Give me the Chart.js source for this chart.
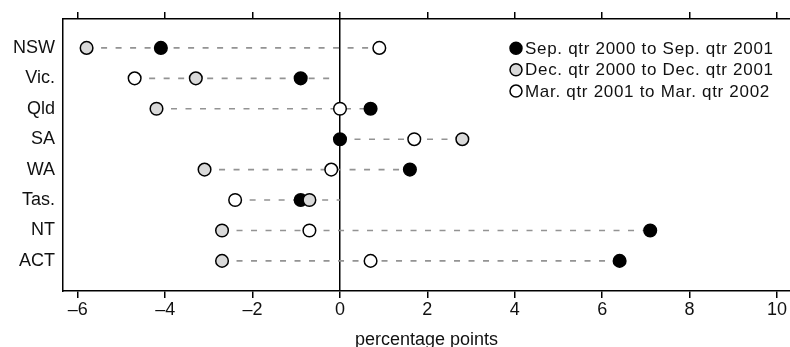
<!DOCTYPE html>
<html>
<head>
<meta charset="utf-8">
<script src="https://cdn.jsdelivr.net/npm/chart.js@4.4.1/dist/chart.umd.min.js"></script>
<style>
  html, body { margin: 0; padding: 0; background: #fff; }
  #wrap { width: 790px; height: 347px; }
</style>
</head>
<body>
<div id="wrap"><canvas id="chart" width="790" height="347"></canvas></div>
<script>
// rows, top to bottom
const states = ["NSW", "Vic.", "Qld", "SA", "WA", "Tas.", "NT", "ACT"];

// change in percentage points
const sepQtr = [-4.1, -0.9, 0.7, 0.0, 1.6, -0.9, 7.1, 6.4];
const decQtr = [-5.8, -3.3, -4.2, 2.8, -3.1, -0.7, -2.7, -2.7];
const marQtr = [0.9, -4.7, 0.0, 1.7, -0.2, -2.4, -0.7, 0.7];

// extent of the dashed guide on each row
const lineFrom = [-5.8, -4.7, -4.2, 0.0, -3.1, -2.4, -2.7, -2.7];
const lineTo = [0.9, -0.2, 0.7, 2.8, 1.6, 0.0, 7.1, 6.4];

const xTicks = [-6, -4, -2, 0, 2, 4, 6, 8, 10];
const seriesNames = [
    "Sep. qtr 2000 to Sep. qtr 2001",
    "Dec. qtr 2000 to Dec. qtr 2001",
    "Mar. qtr 2001 to Mar. qtr 2002"
];

const font = { family: "'Liberation Sans', Arial, sans-serif", size: 18 };

function pts(vals) {
    return vals.map((v, i) => ({ x: v, y: i }));
}

function dotSet(label, vals, fill) {
    return {
        type: "scatter",
        label,
        data: pts(vals),
        pointRadius: 6.3,
        pointHoverRadius: 6.3,
        pointBorderWidth: 1.5,
        pointBorderColor: "#000",
        pointBackgroundColor: fill,
        showLine: false,
    };
}

const datasets = [
    dotSet(seriesNames[2], marQtr, "#fff"),
    dotSet(seriesNames[1], decQtr, "#d9d9d9"),
    dotSet(seriesNames[0], sepQtr, "#000"),
];
states.forEach((s, i) => {
    datasets.push({
        type: "line",
        label: s,
        data: [{ x: lineFrom[i], y: i }, { x: lineTo[i], y: i }],
        borderColor: "#939393",
        borderWidth: 1.6,
        borderDash: [6, 8.5],
        pointRadius: 0,
        fill: false,
    });
});

// legend drawn inside the plot, top right
const dotLegend = {
    id: "dotLegend",
    afterDraw(chart) {
        const ctx = chart.ctx;
        const fills = ["#000", "#d9d9d9", "#fff"];
        ctx.save();
        ctx.font = "17px 'Liberation Sans', Arial, sans-serif";
        ctx.letterSpacing = "0.7px";
        ctx.textBaseline = "middle";
        seriesNames.forEach((name, i) => {
            const y = 48.3 + i * 21.4;
            ctx.beginPath();
            ctx.arc(516, y, 6, 0, Math.PI * 2);
            ctx.fillStyle = fills[i];
            ctx.fill();
            ctx.lineWidth = 1.5;
            ctx.strokeStyle = "#000";
            ctx.stroke();
            ctx.fillStyle = "#111";
            ctx.fillText(name, 525, y + 1);
        });
        ctx.restore();
    }
};

const setTicks = vals => scale => { scale.ticks = vals.map(v => ({ value: v })); };
const noPad = s => { s.paddingLeft = 0; s.paddingRight = 0; s.paddingTop = 0; s.paddingBottom = 0; };

new Chart(document.getElementById("chart"), {
    data: { datasets },
    options: {
        responsive: false,
        animation: false,
        layout: { padding: 0, autoPadding: false },
        plugins: {
            legend: { display: false },
            tooltip: { enabled: false },
        },
        scales: {
            x: {
                type: "linear",
                position: "bottom",
                min: -6.34,
                max: 10.3,
                z: 1,
                afterBuildTicks: setTicks(xTicks),
                afterFit: s => { s.height = 56; noPad(s); },
                border: { display: true, color: "#000", width: 1.5 },
                grid: {
                    drawOnChartArea: true,
                    color: c => (c.tick && c.tick.value === 0 ? "#000" : "rgba(0,0,0,0)"),
                    lineWidth: 1.5,
                    tickColor: "#000",
                    tickLength: 7,
                },
                ticks: {
                    color: "#111",
                    font,
                    padding: 1,
                    maxRotation: 0,
                    callback: v => (v < 0 ? "\u2013" + Math.abs(v) : String(v)),
                },
                title: {
                    display: true,
                    text: "percentage points",
                    color: "#111",
                    font: { family: font.family, size: 18, lineHeight: 0.72 },
                    padding: { top: 0, bottom: 0 },
                },
            },
            x2: {
                type: "linear",
                position: "top",
                min: -6.34,
                max: 10.3,
                afterBuildTicks: setTicks(xTicks),
                afterFit: s => { s.height = 19; noPad(s); },
                border: { display: true, color: "#000", width: 1.5 },
                grid: {
                    drawOnChartArea: false,
                    color: "#000",
                    lineWidth: 1.5,
                    tickColor: "#000",
                    tickLength: 7,
                },
                ticks: { display: false },
            },
            y: {
                type: "linear",
                reverse: true,
                min: -0.95,
                max: 7.99,
                afterBuildTicks: setTicks(states.map((s, i) => i)),
                afterFit: s => { s.width = 63; noPad(s); },
                border: { display: true, color: "#000", width: 1.5 },
                grid: { display: false, drawTicks: false },
                ticks: {
                    color: "#111",
                    font,
                    padding: 8,
                    callback: v => states[v],
                },
            },
        },
    },
    plugins: [dotLegend],
});
</script>
</body>
</html>
